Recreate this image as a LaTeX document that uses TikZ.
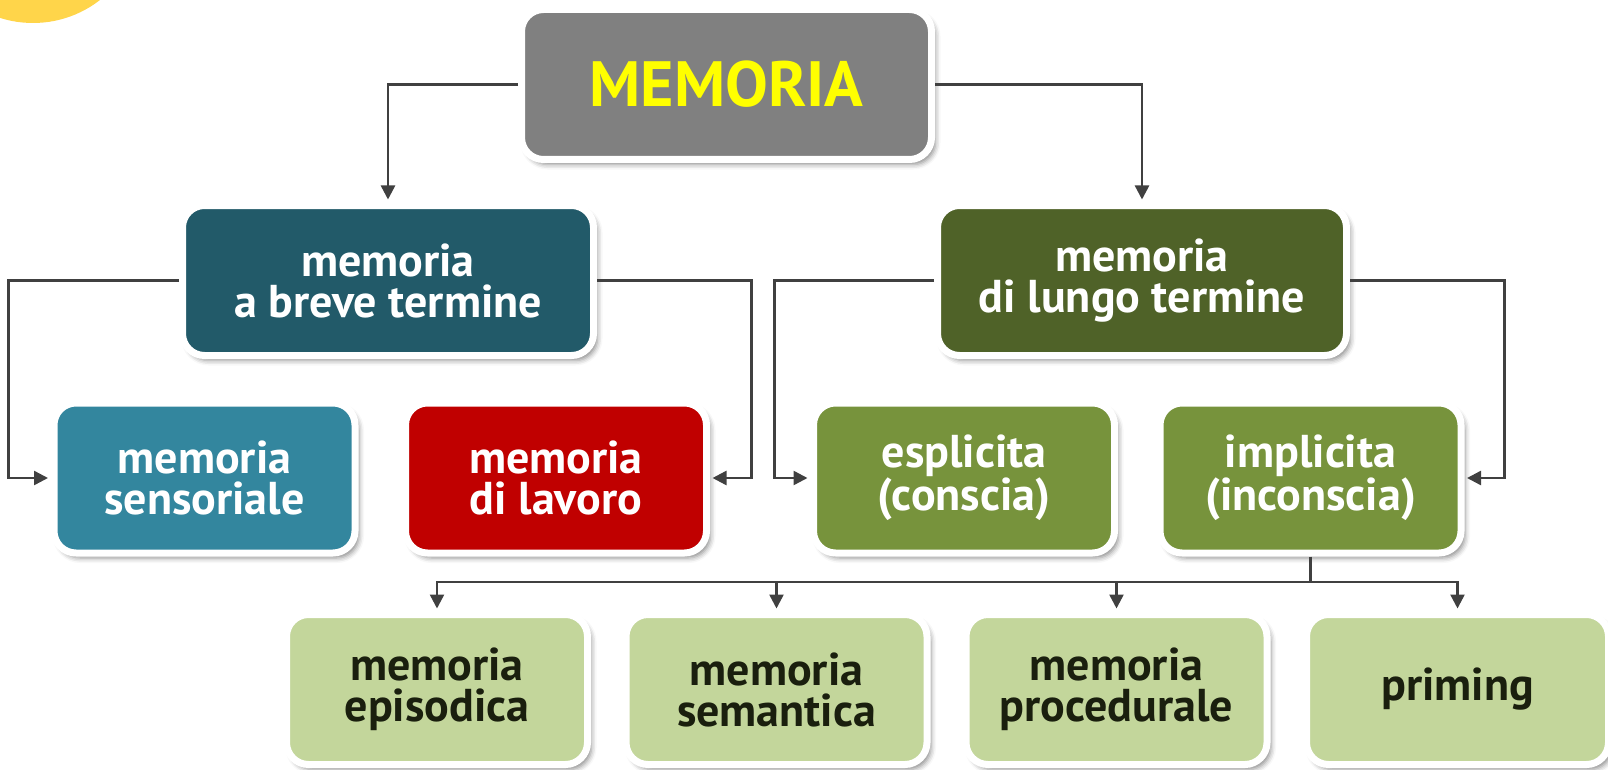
\documentclass[tikz,border=0pt]{standalone}
\usepackage{fontspec}
\setmainfont{PT Sans}
\usetikzlibrary{arrows.meta,shadows.blur}
\definecolor{sunc}{HTML}{FFD54A}
\definecolor{memc}{HTML}{808080}
\definecolor{titlec}{HTML}{FFFF00}
\definecolor{brevec}{HTML}{225A69}
\definecolor{sensc}{HTML}{33869E}
\definecolor{lavc}{HTML}{C00000}
\definecolor{lungoc}{HTML}{4F6228}
\definecolor{midc}{HTML}{77933C}
\definecolor{lowc}{HTML}{C3D69B}
\definecolor{lowtext}{HTML}{1A1F0E}
\definecolor{linec}{HTML}{404040}
\tikzset{
  box/.style={rectangle, rounded corners=22pt, draw=white, line width=7pt,
    align=center, inner sep=0pt, text=white,
    font=\bfseries\fontsize{46}{41}\selectfont,
    minimum width=301pt, minimum height=150pt,
    blur shadow={shadow xshift=4pt, shadow yshift=-5pt, shadow blur radius=5pt, shadow opacity=45}},
  lowbox/.style={box, fill=lowc, text=lowtext},
  conn/.style={draw=linec, line width=2.5pt, -{Triangle[width=14pt,length=14pt]}, shorten >=2.5pt},
  plain/.style={draw=linec, line width=2.5pt}
}
\begin{document}
\begin{tikzpicture}[x=1pt,y=-1pt]
\useasboundingbox (0,0) rectangle (1608,770);
\fill[sunc] (33,-86) circle[radius=109];

\node[box, fill=memc, minimum width=410pt, text=titlec, font=\bfseries\fontsize{64}{64}\selectfont] (mem) at (726.5,84.5) {MEMORIA};

\node[box, fill=brevec, minimum width=411pt] (breve) at (388,280.5) {memoria\\a breve termine};
\node[box, fill=lungoc, minimum width=409pt] (lungo) at (1142,280.5) {memoria\\di lungo termine};

\node[box, fill=sensc] (sens) at (204.5,478) {memoria\\sensoriale};
\node[box, fill=lavc] (lav) at (556,478) {memoria\\di lavoro};
\node[box, fill=midc] (espl) at (964,478) {esplicita\\(conscia)};
\node[box, fill=midc] (impl) at (1310.5,478) {implicita\\(inconscia)};

\node[lowbox] (epi) at (437,689.5) {memoria\\episodica};
\node[lowbox] (sem) at (776.5,689.5) {memoria\\semantica};
\node[lowbox] (proc) at (1116.5,689.5) {memoria\\procedurale};
\node[lowbox, minimum width=302pt] (prim) at (1457.5,689.5) {priming};

\draw[conn] (mem.west) -| (breve.north);
\draw[conn] (mem.east) -| (lungo.north);

\draw[conn] (breve.west) -- ++(-170.5,0) |- (sens.west);
\draw[conn] (breve.east) -- ++(154.5,0) |- (lav.east);
\draw[conn] (lungo.west) -- ++(-159.5,0) |- (espl.west);
\draw[conn] (lungo.east) -- ++(154.5,0) |- (impl.east);

\coordinate (hub) at (1310.5,582);
\draw[plain] (impl.south) -- (hub);
\draw[conn] (hub) -| (epi.north);
\draw[conn] (hub) -| (sem.north);
\draw[conn] (hub) -| (proc.north);
\draw[conn] (hub) -| (prim.north);
\end{tikzpicture}
\end{document}
